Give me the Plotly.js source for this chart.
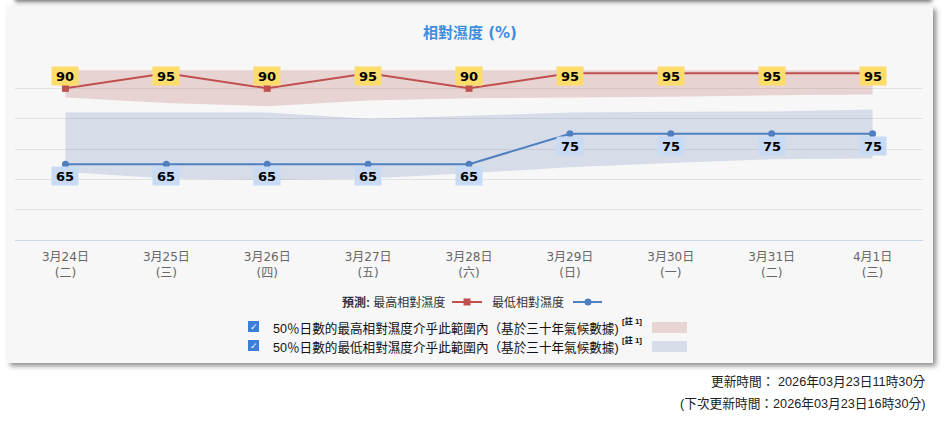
<!DOCTYPE html>
<html>
<head>
<meta charset="utf-8">
<script src="https://cdn.plot.ly/plotly-3.0.1.min.js"></script>
<style>
  body { margin: 0; background: #ffffff; width: 948px; height: 430px; overflow: hidden; position: relative; }
  #topShadow { position: absolute; left: 15px; top: -12px; width: 917px; height: 12px; background: #ffffff; box-shadow: 0 2px 4px rgba(0,0,0,0.55); }
  #card { position: absolute; left: 7px; top: 6px; width: 926px; height: 357px; background: #f7f7f7; box-shadow: 3px 3px 5px rgba(0,0,0,0.45); }
  #myPlot { position: absolute; left: 0; top: 0; width: 948px; height: 430px; }
</style>
</head>
<body>
<div id="topShadow"></div>
<div id="card"></div>
<div id="myPlot"></div>
<script>
// forecast days
var dates    = ['3月24日', '3月25日', '3月26日', '3月27日', '3月28日', '3月29日', '3月30日', '3月31日', '4月1日'];
var weekdays = ['(二)', '(三)', '(四)', '(五)', '(六)', '(日)', '(一)', '(二)', '(三)'];

// forecast relative humidity (%)
var maxRH = [90, 95, 90, 95, 90, 95, 95, 95, 95];
var minRH = [65, 65, 65, 65, 65, 75, 75, 75, 75];

// 50% range based on 30-year climate data
var maxBandHi = [96, 96, 96, 96, 96, 96, 96, 96, 96];
var maxBandLo = [87, 85.2, 84.1, 86, 86.7, 86.9, 87.2, 87.7, 88];
var minBandHi = [82, 82, 82, 80, 81, 82, 82.3, 82.4, 83];
var minBandLo = [62.4, 60.3, 59.7, 60.3, 62, 64, 65.4, 66.6, 66.9];

var xIdx = dates.map(function (d, i) { return i; });
var tickText = dates.map(function (d, i) { return d + '<br>' + weekdays[i]; });

// plot area in pixels, used to place the legend / footer bits
var L = 15, R = 923, T = 58, B = 240;
function px(p) { return (p - L) / (R - L); }
function py(p) { return (B - p) / (B - T); }

var redLine  = '#c0504d';
var blueLine = '#4f7fc0';
var redBand  = 'rgba(177,72,72,0.2)';
var blueBand = 'rgba(87,122,182,0.2)';
var txtFont  = 'Liberation Sans, Noto Sans CJK TC, sans-serif';

var data = [
    { x: xIdx, y: maxBandLo, type: 'scatter', mode: 'lines', line: { width: 0 }, hoverinfo: 'skip', showlegend: false },
    { x: xIdx, y: maxBandHi, type: 'scatter', mode: 'lines', line: { width: 0 }, fill: 'tonexty', fillcolor: redBand, hoverinfo: 'skip', showlegend: false },
    { x: xIdx, y: minBandLo, type: 'scatter', mode: 'lines', line: { width: 0 }, hoverinfo: 'skip', showlegend: false },
    { x: xIdx, y: minBandHi, type: 'scatter', mode: 'lines', line: { width: 0 }, fill: 'tonexty', fillcolor: blueBand, hoverinfo: 'skip', showlegend: false },
    {
        x: xIdx, y: maxRH, type: 'scatter', mode: 'lines+markers',
        line: { color: redLine, width: 2 },
        marker: { color: redLine, symbol: 'square', size: 7 },
        showlegend: false
    },
    {
        x: xIdx, y: minRH, type: 'scatter', mode: 'lines+markers',
        line: { color: blueLine, width: 2 },
        marker: { color: blueLine, symbol: 'circle', size: 7 },
        showlegend: false
    }
];

var annotations = [];

// data labels
for (var i = 0; i < xIdx.length; ++i) {
    annotations.push({
        x: xIdx[i], y: py(66), xref: 'x', yref: 'paper',
        text: '<b>' + maxRH[i] + '</b>', showarrow: false,
        font: { family: 'DejaVu Sans, sans-serif', size: 13, color: '#000' },
        bgcolor: '#fcdc6a', width: 24, height: 16, borderpad: 1, valign: 'bottom'
    });
    annotations.push({
        x: xIdx[i], y: minRH[i], xref: 'x', yref: 'y', yshift: -12,
        text: '<b>' + minRH[i] + '</b>', showarrow: false,
        font: { family: 'DejaVu Sans, sans-serif', size: 13, color: '#000' },
        bgcolor: '#c8daf4', width: 24, height: 16, borderpad: 1, valign: 'bottom'
    });
}

// legend row 1
annotations.push({
    x: px(447), y: py(302), xref: 'paper', yref: 'paper', xanchor: 'right', yanchor: 'middle',
    text: '<b>預測:</b> 最高相對濕度', showarrow: false,
    font: { family: txtFont, size: 12, color: '#333' }
});
annotations.push({
    x: px(490), y: py(302), xref: 'paper', yref: 'paper', xanchor: 'left', yanchor: 'middle',
    text: '最低相對濕度', showarrow: false,
    font: { family: txtFont, size: 12, color: '#333' }
});

// legend rows 2 and 3 (climate ranges)
var rangeText = ['50％日數的最高相對濕度介乎此範圍內（基於三十年氣候數據)', '50％日數的最低相對濕度介乎此範圍內（基於三十年氣候數據)'];
var noteText = '[註 1]';
var rowY = [328, 347];
for (var r = 0; r < 2; ++r) {
    annotations.push({
        x: px(271), y: py(rowY[r]), xref: 'paper', yref: 'paper', xanchor: 'left', yanchor: 'middle',
        text: rangeText[r], showarrow: false,
        font: { family: txtFont, size: 12.6, color: '#111' }
    });
    annotations.push({
        x: px(620), y: py(rowY[r] - 7), xref: 'paper', yref: 'paper', xanchor: 'left', yanchor: 'middle',
        text: '<b>' + noteText + '</b>', showarrow: false,
        font: { family: txtFont, size: 8, color: '#111' }
    });
    annotations.push({
        x: px(253.5), y: py(rowY[r] - 1.5), xref: 'paper', yref: 'paper', xanchor: 'center', yanchor: 'middle',
        text: '<b>✓</b>', showarrow: false,
        font: { family: 'DejaVu Sans, sans-serif', size: 9, color: '#fff' }
    });
}

// footer
annotations.push({
    x: px(927), y: py(381), xref: 'paper', yref: 'paper', xanchor: 'right', yanchor: 'middle',
    text: '更新時間： 2026年03月23日11時30分', showarrow: false,
    font: { family: txtFont, size: 12.7, color: '#222' }
});
annotations.push({
    x: px(927), y: py(403), xref: 'paper', yref: 'paper', xanchor: 'right', yanchor: 'middle',
    text: '(下次更新時間：2026年03月23日16時30分)', showarrow: false,
    font: { family: txtFont, size: 12.7, color: '#222' }
});

var shapes = [
    // legend symbols
    { type: 'line', xref: 'paper', yref: 'paper', x0: px(452), x1: px(482), y0: py(302), y1: py(302), line: { color: redLine, width: 2 } },
    { type: 'rect', xref: 'paper', yref: 'paper', x0: px(463.5), x1: px(470.5), y0: py(298.5), y1: py(305.5), fillcolor: redLine, line: { width: 0 } },
    { type: 'line', xref: 'paper', yref: 'paper', x0: px(573), x1: px(602), y0: py(302), y1: py(302), line: { color: blueLine, width: 2 } },
    { type: 'circle', xref: 'paper', yref: 'paper', x0: px(584.5), x1: px(591.5), y0: py(298.5), y1: py(305.5), fillcolor: blueLine, line: { width: 0 } },
    // checkboxes
    { type: 'rect', xref: 'paper', yref: 'paper', x0: px(248), x1: px(259), y0: py(321), y1: py(332), fillcolor: '#3b7fd9', line: { width: 0 } },
    { type: 'rect', xref: 'paper', yref: 'paper', x0: px(248), x1: px(259), y0: py(340), y1: py(351), fillcolor: '#3b7fd9', line: { width: 0 } },
    // colour swatches
    { type: 'rect', xref: 'paper', yref: 'paper', x0: px(652), x1: px(687), y0: py(322), y1: py(333), fillcolor: '#e9d4d4', line: { width: 0 } },
    { type: 'rect', xref: 'paper', yref: 'paper', x0: px(652), x1: px(687), y0: py(341), y1: py(352), fillcolor: '#d7deea', line: { width: 0 } }
];

var layout = {
    width: 948,
    height: 430,
    margin: { l: L, r: 948 - R, t: T, b: 430 - B, pad: 0 },
    paper_bgcolor: 'rgba(0,0,0,0)',
    plot_bgcolor: 'rgba(0,0,0,0)',
    title: {
        text: '<b>相對濕度 (%)</b>',
        x: 470 / 948, xanchor: 'center',
        y: 1 - 33 / 430, yanchor: 'middle',
        font: { family: 'DejaVu Sans, Noto Sans CJK TC, sans-serif', size: 15, color: '#3d8ee0' }
    },
    xaxis: {
        range: [-0.5, 8.5],
        tickvals: xIdx,
        ticktext: tickText,
        showgrid: false,
        zeroline: false,
        showline: true,
        linecolor: '#ccd6eb',
        linewidth: 1,
        ticks: '',
        ticklabelstandoff: 6,
        tickfont: { family: 'DejaVu Sans, Noto Sans CJK TC, sans-serif', size: 12, color: '#666' },
        fixedrange: true
    },
    yaxis: {
        range: [40, 100],
        dtick: 10,
        tick0: 40,
        showticklabels: false,
        gridcolor: '#e2e2e2',
        gridwidth: 1,
        zeroline: false,
        ticks: '',
        fixedrange: true
    },
    showlegend: false,
    annotations: annotations,
    shapes: shapes
};

var config = { displayModeBar: false, staticPlot: true };

Plotly.newPlot('myPlot', data, layout, config);
</script>
</body>
</html>
